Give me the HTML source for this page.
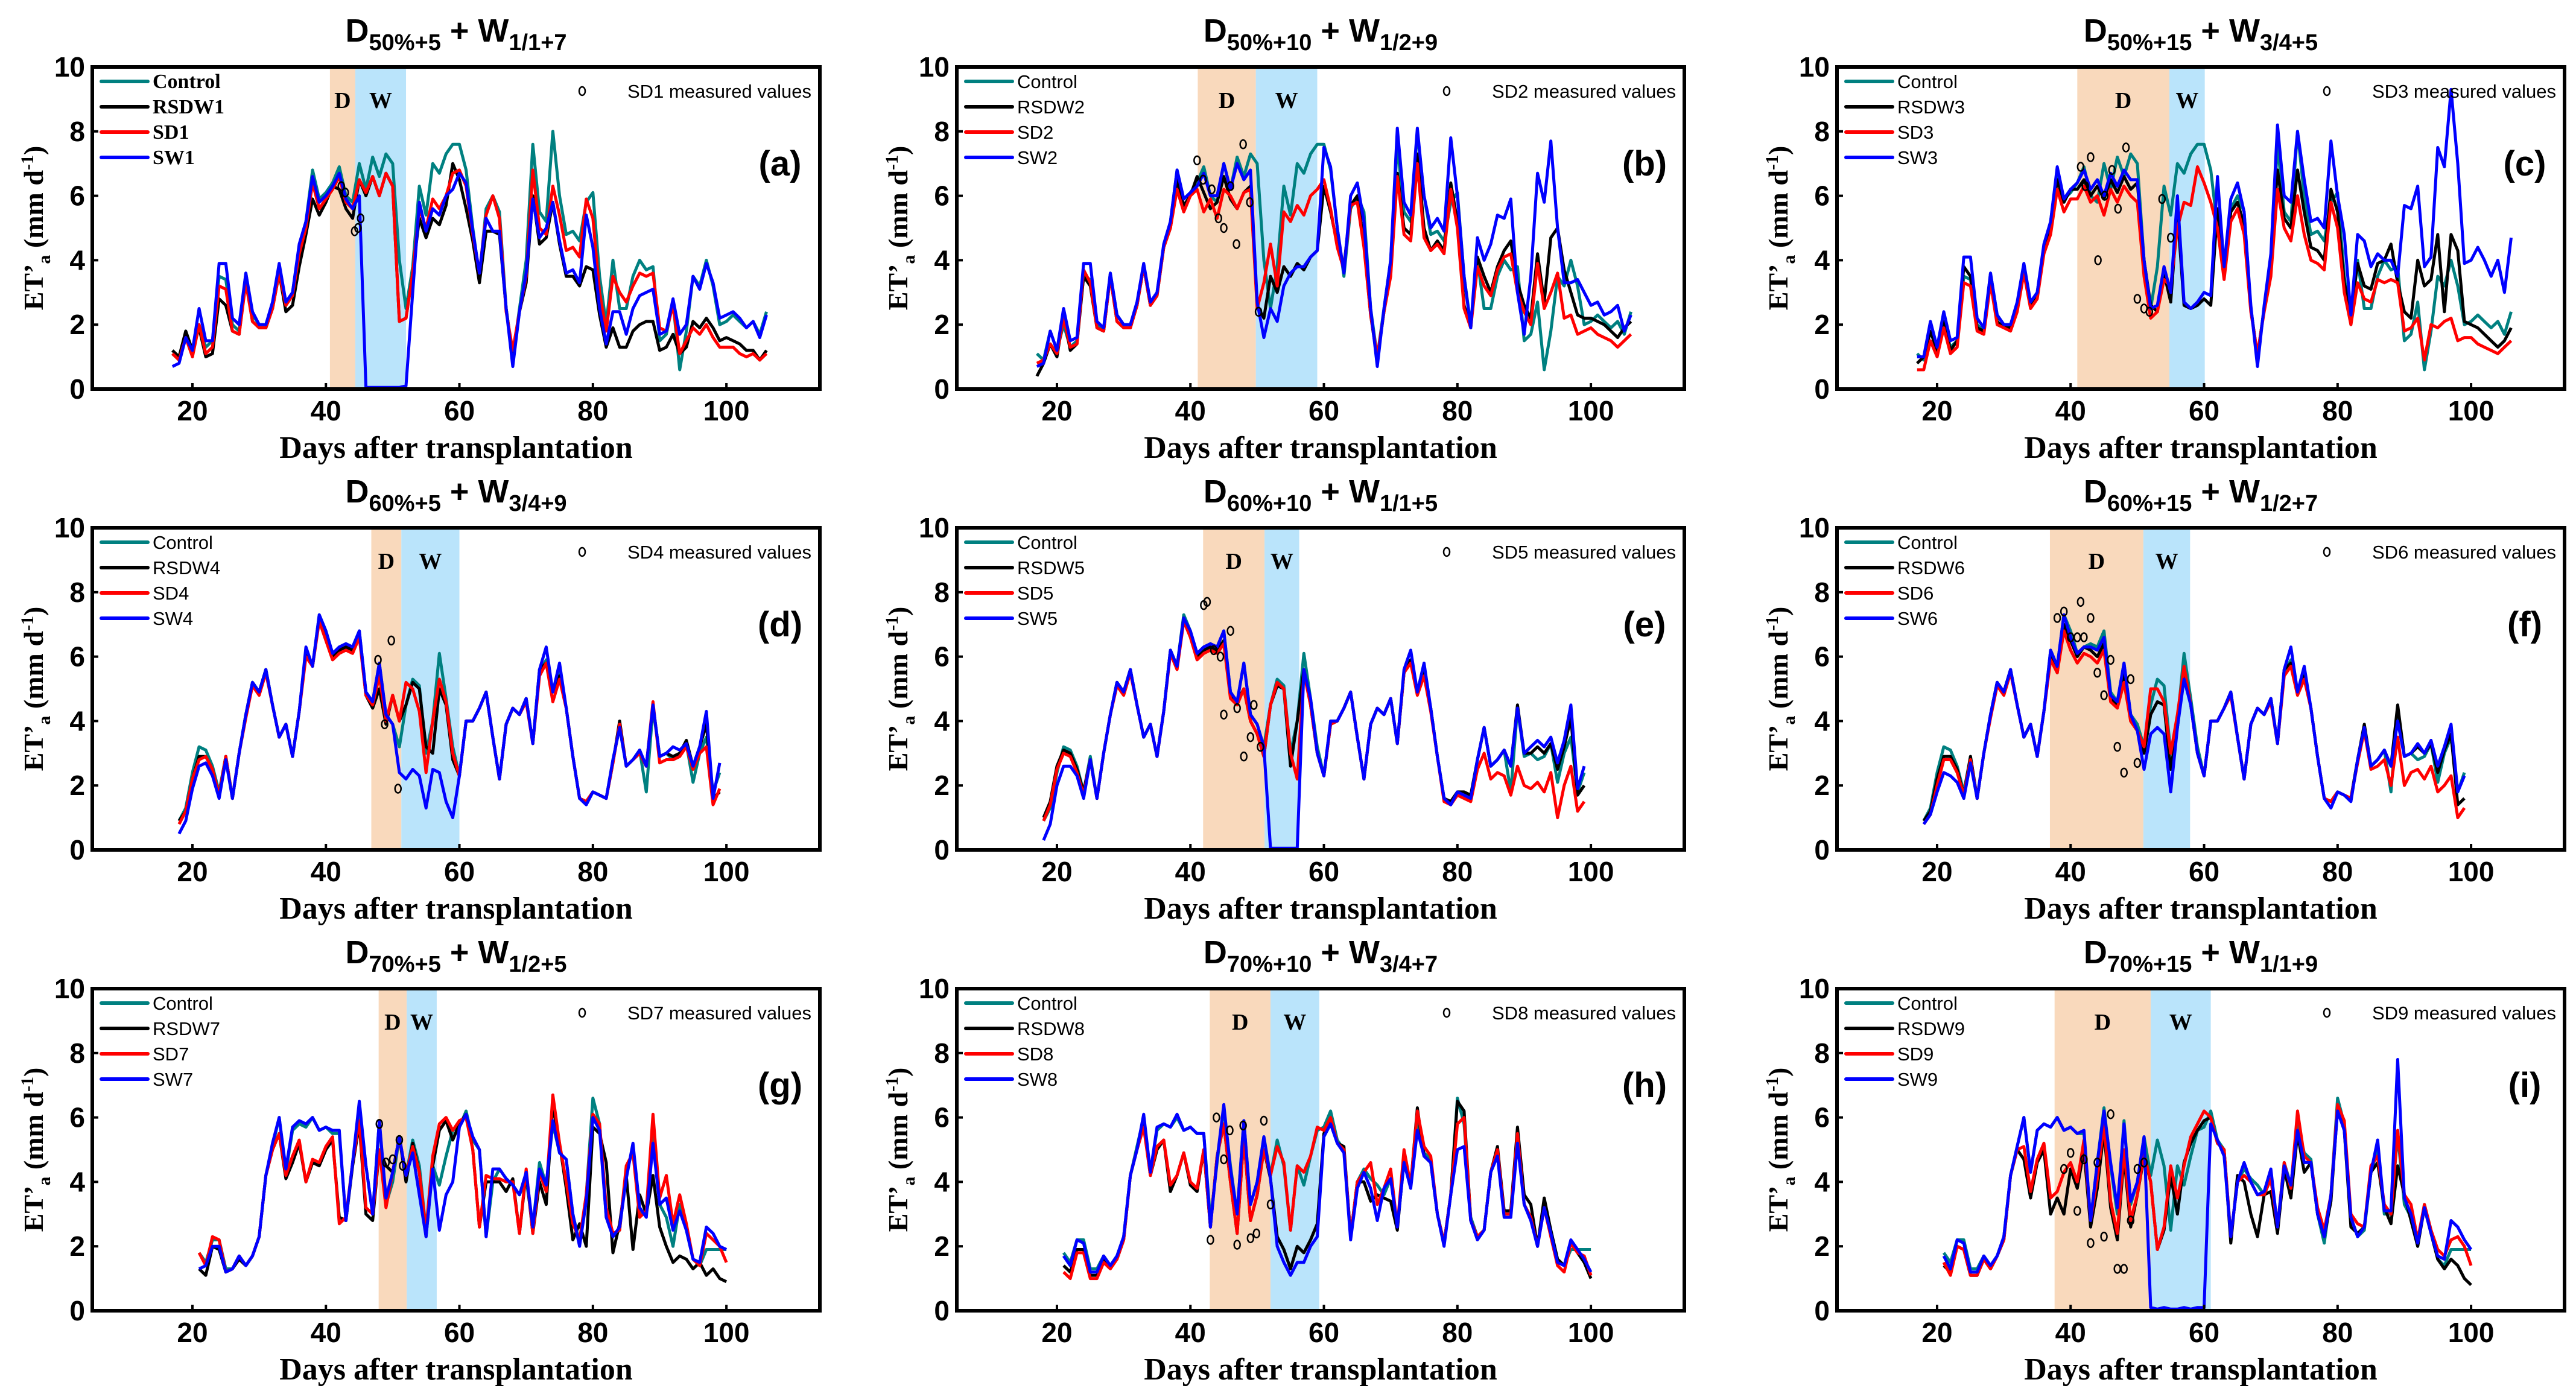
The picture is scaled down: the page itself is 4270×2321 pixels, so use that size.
<!DOCTYPE html>
<html><head><meta charset="utf-8">
<style>
html,body{margin:0;padding:0;background:#fff;}
svg{display:block;}
</style></head>
<body>
<svg id="fig" xmlns="http://www.w3.org/2000/svg" width="4270" height="2321" viewBox="0 0 4270 2321"></svg>
<script>
// ---------- data ----------
const days1 = []; for (let d = 17; d <= 106; d++) days1.push(d);
const days2 = []; for (let d = 18; d <= 99; d++) days2.push(d);
const days3 = []; for (let d = 21; d <= 100; d++) days3.push(d);

const control1 = [1.1,0.9,1.8,1.2,2.0,1.3,1.5,3.5,3.4,2.0, 1.8,3.6,2.3,2.0,2.0,2.6,3.8,2.6,3.0,4.4, 5.2,6.8,5.9,6.1,6.4,6.9,6.0,5.8,7.0,6.2, 7.2,6.6,7.3,7.0,4.0,2.5,3.8,6.3,5.4,7.0, 6.7,7.3,7.6,7.6,6.8,5.0,3.5,5.6,6.0,5.5, 2.5,1.0,2.5,4.0,7.6,5.5,5.2,8.0,6.0,4.8, 4.9,4.6,5.8,6.1,3.5,2.0,4.0,2.5,2.5,3.5, 4.0,3.7,3.8,1.5,1.7,2.7,0.6,1.8,3.5,3.2, 4.0,3.2,2.0,2.1,2.3,2.1,1.9,2.1,1.7,2.4];
const rsdw1 = [1.2,1.0,1.8,1.2,1.9,1.0,1.1,2.8,2.6,1.8, 1.7,3.4,2.1,1.9,1.9,2.5,3.6,2.4,2.6,3.8, 4.8,5.9,5.4,5.8,6.3,6.2,5.6,5.3,6.5,6.0, 6.6,6.0,6.7,6.3,2.1,2.2,3.6,5.3,4.7,5.3, 5.1,5.7,7.0,6.5,5.6,4.6,3.3,4.9,4.9,4.8, 2.5,1.0,2.4,3.3,6.0,4.5,4.7,5.8,4.5,3.5, 3.5,3.2,3.8,3.7,2.3,1.3,1.9,1.3,1.3,1.8, 2.0,2.1,2.1,1.2,1.3,1.7,1.1,1.3,2.1,1.9, 2.2,1.9,1.5,1.6,1.5,1.4,1.2,1.2,0.9,1.2];
const sd1 = [1.1,0.9,1.6,1.0,2.0,1.1,1.3,3.2,3.1,1.8, 1.7,3.3,2.1,1.9,1.9,2.5,3.6,2.6,2.9,4.2, 5.0,6.4,5.6,5.9,6.2,6.6,5.8,5.6,6.5,6.1, 6.6,6.0,6.7,6.3,2.1,2.2,3.6,5.6,5.0,5.9, 5.6,6.0,6.7,6.8,6.3,4.8,3.6,5.4,6.0,5.3, 2.4,1.2,2.4,3.5,6.8,5.0,4.8,6.3,5.4,4.3, 4.4,4.1,5.9,5.3,3.0,1.8,3.5,3.0,2.7,3.2, 3.6,3.5,3.6,1.9,1.8,2.6,1.1,1.5,1.9,1.7, 2.0,1.6,1.3,1.3,1.3,1.1,1.0,1.1,0.9,1.1];
const sw1 = [0.7,0.8,1.6,1.2,2.5,1.5,1.5,3.9,3.9,2.2, 2.0,3.6,2.4,2.0,2.0,2.7,3.9,2.7,3.0,4.5, 5.2,6.6,5.8,6.0,6.3,6.7,5.9,5.6,6.0,0.05, 0.05,0.05,0.05,0.05,0.05,0.1,3.0,5.8,4.9,5.6, 5.4,6.0,6.2,6.7,6.4,4.9,3.6,5.3,4.9,4.9, 2.5,0.7,2.4,3.6,5.9,4.7,5.0,5.8,4.6,3.6, 3.7,3.3,5.4,4.4,2.5,1.4,2.4,2.4,1.7,2.5, 2.9,3.0,3.1,1.7,1.8,2.8,1.7,2.0,3.5,3.1, 3.9,3.3,2.2,2.3,2.4,2.2,1.9,2.1,1.6,2.3];
const measDays1 = [42.3,42.9,44.3,44.8,45.2];
const measVals1 = [6.3,6.1,4.9,5.0,5.3];

const rsdw2 = [0.4,0.8,1.4,1.0,2.3,1.2,1.4,3.5,3.2,1.9, 1.8,3.5,2.1,1.9,1.9,2.6,3.8,2.6,2.9,4.4, 5.0,6.5,5.7,6.0,6.6,6.1,5.6,5.8,6.6,5.9, 5.6,6.1,6.3,2.6,2.2,3.5,3.0,3.8,3.5,3.9, 3.7,4.1,4.3,6.3,5.5,4.5,3.8,5.7,6.0,4.5, 2.3,0.9,2.4,3.7,6.7,5.0,4.8,7.3,5.0,4.3, 4.6,4.3,6.4,5.2,2.6,1.9,4.1,3.5,3.0,3.8, 4.3,4.6,3.3,2.6,2.2,4.2,2.7,4.7,5.0,3.7, 3.0,2.3,2.2,2.2,2.1,2.0,1.8,1.6,1.9,2.1];
const sd2 = [0.8,0.9,1.4,1.1,2.2,1.3,1.4,3.7,3.3,1.9, 1.8,3.5,2.1,1.9,1.9,2.6,3.8,2.6,2.9,4.4, 5.0,6.2,5.5,6.0,6.2,5.5,5.9,5.3,6.2,6.0, 5.6,6.1,6.2,2.5,3.3,4.5,3.2,5.5,5.2,5.7, 5.4,6.0,6.2,6.5,5.6,4.4,3.7,5.7,5.8,4.4, 2.3,1.0,2.4,3.5,6.6,4.8,4.6,7.0,4.7,4.3, 4.5,4.2,6.2,5.0,2.5,1.9,3.8,3.2,2.9,3.7, 4.1,4.2,3.0,2.4,2.0,3.9,2.5,3.0,3.6,2.2, 2.3,1.7,1.8,1.9,1.7,1.6,1.5,1.3,1.5,1.7];
const sw2 = [0.7,0.8,1.8,1.2,2.5,1.5,1.6,3.9,3.9,2.1, 1.9,3.6,2.3,2.0,2.0,2.7,3.9,2.7,3.0,4.5, 5.2,6.8,5.9,6.1,6.3,6.7,6.0,6.0,7.0,6.2, 7.0,6.5,6.8,2.7,1.6,2.5,2.1,3.2,3.6,3.8, 3.8,4.1,4.3,7.5,6.9,5.0,3.6,6.0,6.4,5.2, 2.5,0.7,2.5,4.0,8.1,5.8,5.4,8.1,6.0,5.0, 5.3,4.9,7.8,6.0,3.5,1.9,4.7,4.0,4.5,5.4, 5.3,5.9,3.0,1.7,3.5,6.7,5.8,7.7,5.0,3.3, 3.3,3.4,3.0,2.6,2.7,2.3,2.4,2.6,1.8,2.3];
const measDays2 = [41,41.9,43.2,44.2,45,46,46.9,47.9,48.9,50.2];
const measVals2 = [7.1,6.5,6.2,5.3,5.0,6.3,4.5,7.6,5.8,2.4];

const rsdw3 = [0.8,1.0,1.8,1.2,2.1,1.2,1.5,3.8,3.5,1.9, 1.8,3.4,2.1,1.9,1.9,2.5,3.7,2.6,2.9,4.3, 5.0,6.5,5.8,6.2,6.2,6.5,6.0,6.3,5.9,6.5, 6.1,6.6,6.2,6.4,4.0,2.6,2.4,3.6,2.7,5.5, 2.6,2.5,2.6,2.8,2.6,5.6,3.6,5.5,5.8,5.1, 2.5,1.0,2.5,4.0,6.8,5.3,5.0,6.8,5.5,4.4, 4.3,4.0,6.2,5.5,3.3,2.4,3.9,3.2,3.1,3.9, 4.0,4.5,3.3,2.4,2.2,4.0,3.2,3.4,4.8,2.4, 4.8,4.3,2.1,2.0,1.9,1.7,1.5,1.3,1.5,1.9];
const sd3 = [0.6,0.6,1.5,1.0,1.9,1.1,1.3,3.3,3.2,1.8, 1.7,3.3,2.0,1.9,1.8,2.4,3.6,2.5,2.8,4.2, 4.8,6.2,5.5,5.9,5.9,6.3,5.8,6.0,5.4,6.2, 5.8,6.3,6.0,5.8,3.5,2.2,2.4,3.4,3.2,5.0, 5.8,5.7,6.9,6.4,5.8,5.0,3.4,5.2,5.6,4.8, 2.4,1.1,2.4,3.5,6.2,5.0,4.6,6.0,4.8,4.0, 3.9,3.7,5.8,5.0,3.0,2.0,3.3,2.8,2.7,3.4, 3.3,3.4,3.3,1.8,1.9,2.2,0.9,2.0,1.9,2.1, 2.2,1.5,1.6,1.6,1.4,1.3,1.2,1.1,1.3,1.5];
const sw3 = [1.0,1.0,2.1,1.3,2.4,1.5,1.6,4.1,4.1,2.2, 1.9,3.6,2.3,2.0,2.0,2.7,3.9,2.7,3.0,4.5, 5.2,6.9,5.9,6.2,6.4,6.8,6.2,6.5,6.0,6.7, 6.3,6.8,6.5,6.5,4.0,2.5,2.6,3.8,3.0,6.0, 2.7,2.5,2.7,3.0,2.9,6.6,3.8,5.9,6.4,5.5, 2.6,0.7,2.6,4.2,8.2,6.0,5.8,8.0,6.5,5.2, 5.3,5.0,7.7,6.0,4.8,2.3,4.8,4.6,3.8,4.2, 4.0,4.0,3.5,5.7,5.6,6.3,3.8,4.1,7.5,6.9, 9.3,7.0,3.9,4.0,4.4,4.0,3.5,4.0,3.0,4.7];
const measDays3 = [41.5,42.2,43,44.1,45.1,46.2,47.1,48.3,50,51,51.8,53.7,55];
const measVals3 = [6.9,6.3,7.2,4.0,6.0,6.8,5.6,7.5,2.8,2.5,2.4,5.9,4.7];

const control2 = [0.9,1.3,2.4,3.2,3.1,2.6,1.8,2.9,1.6,3.0, 4.2,5.2,4.9,5.6,4.5,3.5,3.9,2.9,4.3,6.2, 5.7,7.3,6.8,6.1,6.3,6.4,6.3,6.8,4.9,4.6, 5.8,4.2,3.9,3.2,4.5,5.3,5.1,3.0,4.0,6.1, 4.7,3.2,2.3,4.0,4.0,4.4,4.9,3.5,2.2,3.9, 4.4,4.2,4.7,3.3,5.5,5.9,4.9,5.5,4.4,2.9, 1.6,1.5,1.8,1.7,1.6,2.8,3.8,2.6,2.8,3.1, 1.8,4.4,2.9,3.0,2.8,2.9,3.3,2.1,3.0,3.5, 1.8,2.4];
const rsdw4 = [0.9,1.2,2.2,2.9,2.9,2.5,1.7,2.9,1.6,3.0, 4.2,5.2,4.9,5.6,4.5,3.5,3.9,2.9,4.3,6.2, 5.7,7.2,6.7,6.0,6.2,6.3,6.2,6.7,4.8,4.4, 5.0,3.9,4.8,4.0,4.5,5.2,5.0,3.2,3.0,5.0, 4.5,2.8,2.3,4.0,4.0,4.4,4.9,3.5,2.2,3.9, 4.4,4.2,4.7,3.3,5.6,5.8,4.9,5.4,4.4,2.9, 1.6,1.5,1.8,1.7,1.6,2.7,4.0,2.6,2.8,3.0, 2.6,4.5,2.9,3.0,2.9,3.0,3.4,2.6,3.2,3.9, 1.6,1.8];
const sd4 = [0.8,1.2,2.2,2.8,2.9,2.5,1.7,2.9,1.6,3.0, 4.1,5.1,4.8,5.5,4.5,3.5,3.9,2.9,4.3,6.0, 5.7,7.1,6.5,5.9,6.1,6.2,6.1,6.6,4.8,4.5, 5.4,4.0,4.8,4.0,5.2,5.0,4.3,2.4,4.0,5.3, 4.6,3.0,2.3,4.0,4.0,4.4,4.9,3.5,2.2,3.9, 4.4,4.2,4.6,3.3,5.4,5.8,4.6,5.3,4.4,2.9, 1.6,1.5,1.8,1.7,1.6,2.7,3.9,2.6,2.8,3.0, 2.6,4.6,2.7,2.8,2.8,2.9,3.2,2.5,3.0,3.2, 1.4,1.9];
const sw4 = [0.5,0.9,1.9,2.6,2.7,2.3,1.6,2.8,1.6,3.0, 4.2,5.2,4.9,5.6,4.5,3.5,3.9,2.9,4.3,6.3, 5.7,7.3,6.8,6.1,6.3,6.4,6.3,6.8,4.9,4.6, 5.8,4.2,3.9,2.4,2.2,2.5,2.3,1.3,2.5,2.4, 1.5,1.0,2.3,4.0,4.0,4.4,4.9,3.5,2.2,3.9, 4.4,4.2,4.7,3.3,5.6,6.3,4.9,5.8,4.4,2.9, 1.6,1.4,1.8,1.7,1.6,2.8,3.8,2.6,2.8,3.1, 2.6,4.5,2.9,3.0,3.2,3.1,3.3,2.6,3.2,4.3, 1.6,2.7];
const measDays4 = [47.8,48.8,49.8,50.8];
const measVals4 = [5.9,3.9,6.5,1.9];

const rsdw5 = [1.0,1.5,2.6,3.1,3.0,2.5,1.8,2.8,1.6,3.0, 4.2,5.2,4.9,5.6,4.5,3.5,3.9,2.9,4.3,6.2, 5.7,7.2,6.7,6.0,6.2,6.3,6.2,6.5,4.8,4.6, 5.0,4.0,3.6,2.9,4.5,5.1,5.0,2.6,4.0,5.6, 4.5,3.0,2.3,3.9,4.0,4.4,4.9,3.5,2.2,3.9, 4.4,4.2,4.7,3.3,5.5,5.9,4.9,5.5,4.4,2.9, 1.6,1.5,1.8,1.8,1.7,2.8,3.8,2.6,2.8,3.1, 2.6,4.5,3.0,3.0,3.2,3.0,3.3,2.5,3.2,4.1, 1.7,2.0];
const sd5 = [0.9,1.4,2.5,3.0,2.9,2.4,1.7,2.8,1.6,3.0, 4.2,5.1,4.8,5.5,4.5,3.5,3.9,2.9,4.3,6.1, 5.6,7.1,6.6,5.9,6.1,6.2,6.1,6.4,4.7,4.5, 5.0,4.0,3.6,2.9,4.5,5.2,5.0,3.0,2.2,5.5, 4.5,3.0,2.3,3.9,4.0,4.4,4.9,3.5,2.2,3.9, 4.4,4.2,4.7,3.3,5.5,5.8,4.8,5.4,4.3,2.9, 1.5,1.4,1.7,1.6,1.5,2.5,3.0,2.2,2.4,2.3, 1.7,2.6,2.0,1.9,2.1,1.8,2.4,1.0,2.0,2.6, 1.2,1.5];
const sw5 = [0.3,0.8,2.0,2.6,2.6,2.3,1.6,2.8,1.6,3.0, 4.2,5.2,4.9,5.6,4.5,3.5,3.9,2.9,4.3,6.2, 5.7,7.2,6.8,6.1,6.3,6.4,6.3,6.8,4.9,4.6, 5.8,4.2,3.9,3.2,0.05,0.05,0.05,0.05,0.05,5.6, 4.7,3.0,2.3,4.0,4.0,4.4,4.9,3.5,2.2,3.9, 4.4,4.2,4.7,3.3,5.6,6.2,4.9,5.8,4.4,2.9, 1.6,1.4,1.8,1.7,1.6,2.8,3.8,2.6,2.8,3.1, 2.6,4.4,3.0,3.2,3.4,3.2,3.5,2.7,3.4,4.5, 1.9,2.6];
const measDays5 = [42,42.5,43.5,44.5,45,46,47,48,49,49.5,50.5];
const measVals5 = [7.6,7.7,6.2,6.0,4.2,6.8,4.4,2.9,3.5,4.5,3.2];

const rsdw6 = [0.9,1.2,2.2,2.9,2.9,2.5,1.7,2.9,1.6,3.0, 4.2,5.2,4.9,5.6,4.5,3.5,3.9,2.9,4.3,6.0, 5.5,7.0,6.5,6.0,6.3,6.2,6.0,6.4,4.7,4.5, 5.5,4.0,3.7,3.0,4.2,4.6,4.5,2.5,3.8,5.5, 4.5,3.0,2.3,4.0,4.0,4.4,4.9,3.5,2.2,3.9, 4.4,4.2,4.7,3.3,5.6,5.8,4.9,5.4,4.4,2.9, 1.6,1.5,1.8,1.7,1.6,2.8,3.9,2.6,2.8,3.1, 2.6,4.5,2.9,3.0,3.2,3.0,3.3,2.4,3.1,3.6, 1.4,1.6];
const sd6 = [0.8,1.1,2.0,2.8,2.8,2.4,1.7,2.8,1.6,3.0, 4.1,5.1,4.8,5.5,4.5,3.5,3.9,2.9,4.3,5.9, 5.5,6.8,6.2,5.8,6.1,6.0,5.8,6.2,4.6,4.4, 5.2,4.0,3.7,3.2,5.0,5.0,4.6,3.0,4.2,5.7, 4.5,3.0,2.3,4.0,4.0,4.4,4.8,3.5,2.2,3.9, 4.4,4.2,4.6,3.3,5.4,5.7,4.8,5.3,4.4,2.9, 1.6,1.5,1.8,1.7,1.6,2.7,3.7,2.5,2.6,2.8, 2.0,3.5,2.0,2.4,2.5,2.2,2.6,1.8,2.0,2.3, 1.0,1.3];
const sw6 = [0.8,1.1,1.8,2.4,2.3,2.1,1.6,2.7,1.6,3.0, 4.2,5.2,4.9,5.6,4.5,3.5,3.9,2.9,4.3,6.2, 5.7,7.3,6.6,6.1,6.3,6.3,6.2,6.6,4.8,4.6, 5.8,4.2,3.7,2.5,3.6,3.8,3.6,1.8,3.8,5.3, 4.5,3.0,2.3,4.0,4.0,4.4,4.9,3.5,2.2,3.9, 4.4,4.2,4.7,3.3,5.6,6.3,4.9,5.7,4.4,2.9, 1.6,1.3,1.8,1.7,1.5,2.8,3.8,2.6,2.8,3.1, 2.6,4.0,2.9,3.0,3.3,3.0,3.4,2.6,3.2,3.9, 1.8,2.3];
const measDays6 = [38,39,40,41,41.5,42,43,44,45,46,47,48,49,50];
const measVals6 = [7.2,7.4,6.6,6.6,7.7,6.6,7.2,5.5,4.8,5.9,3.2,2.4,5.3,2.7];

const control3 = [1.8,1.5,2.2,2.2,1.3,1.3,1.7,1.4,1.7,2.3, 4.2,5.1,6.0,4.3,5.6,5.8,5.7,6.0,5.6,5.7, 5.5,5.5,2.8,4.6,6.3,4.5,3.0,5.9,3.3,4.0, 5.4,4.2,5.3,4.5,2.5,4.5,3.9,4.8,5.6,5.7, 6.2,5.3,5.0,2.3,4.0,4.4,4.1,3.9,3.6,4.1, 2.6,4.6,3.9,5.8,4.9,4.7,3.0,2.1,3.6,6.6, 5.8,2.9,2.3,2.5,4.3,5.0,3.0,3.0,5.5,3.3, 2.9,2.0,3.3,2.5,1.6,1.4,1.9,1.9,1.9,1.9];
const rsdw7 = [1.3,1.1,2.0,1.9,1.2,1.3,1.6,1.4,1.7,2.3, 4.2,5.0,5.5,4.1,4.6,5.2,4.0,4.6,4.5,5.0, 5.3,2.9,2.8,4.5,5.8,3.0,2.8,5.0,4.5,4.3, 5.4,4.0,5.2,4.3,2.3,4.5,5.6,5.9,5.3,5.8, 6.1,5.0,2.6,4.0,4.0,4.0,3.7,4.1,2.4,4.3, 2.4,4.0,3.3,6.4,5.2,3.8,2.2,2.7,2.0,5.7, 5.5,4.6,1.8,2.7,4.2,1.9,3.6,3.0,4.2,2.6, 2.0,1.5,1.7,1.6,1.3,1.5,1.1,1.3,1.0,0.9];
const sd7 = [1.8,1.4,2.3,2.2,1.2,1.3,1.7,1.4,1.7,2.3, 4.2,5.0,5.5,4.2,4.8,5.3,4.0,4.7,4.6,5.1, 5.4,2.7,2.9,4.6,5.9,3.2,3.0,5.0,3.2,4.3, 5.4,4.2,5.1,4.3,2.5,4.8,5.8,6.0,5.6,5.9, 6.0,5.0,2.6,4.2,4.1,4.1,4.0,4.0,2.4,4.4, 2.4,4.3,3.7,6.7,5.2,4.0,2.7,2.2,3.6,6.1, 5.8,3.2,2.4,2.5,4.5,4.9,2.9,3.1,6.1,3.5, 4.2,2.7,3.6,2.7,1.6,1.4,2.4,2.2,2.0,1.5];
const sw7 = [1.3,1.4,2.0,2.0,1.2,1.3,1.7,1.4,1.7,2.3, 4.2,5.2,6.0,4.4,5.7,5.9,5.8,6.0,5.6,5.7, 5.6,5.6,2.8,4.6,6.5,4.5,3.0,5.9,3.5,4.3, 5.4,4.2,4.9,3.6,2.3,4.4,2.5,3.6,4.0,5.7, 6.1,5.4,5.0,2.3,4.4,4.4,4.1,3.9,3.6,4.3, 2.6,4.4,3.9,5.9,4.9,4.7,3.0,2.0,3.4,6.0, 5.6,2.9,2.3,2.6,4.1,5.2,3.2,2.9,5.2,3.3, 3.5,2.5,3.1,2.5,1.6,1.5,2.6,2.4,2.0,1.9];
const measDays7 = [48,49,50,51,51.5];
const measVals7 = [5.8,4.6,4.7,5.3,4.5];

const rsdw8 = [1.4,1.2,1.9,1.9,1.1,1.1,1.6,1.4,1.6,2.2, 4.2,5.0,5.8,4.2,5.0,5.3,3.7,4.2,4.9,3.9, 3.7,5.0,2.6,4.8,5.8,4.0,2.4,5.4,2.8,3.6, 5.0,4.1,2.3,1.9,1.3,2.0,1.8,2.2,2.7,5.5, 5.9,5.2,5.1,2.3,4.0,4.0,3.4,3.6,3.5,3.4, 2.5,4.7,3.9,6.3,4.8,4.6,3.0,2.1,3.6,6.5, 6.2,2.8,2.3,2.5,4.3,5.1,3.1,3.1,5.7,3.6, 3.3,2.0,3.5,2.5,1.6,1.4,2.1,1.8,1.5,1.0];
const sd8 = [1.2,1.0,1.8,1.8,1.0,1.0,1.5,1.3,1.6,2.2, 4.2,5.0,5.7,4.2,5.1,5.3,3.9,4.2,4.9,4.0, 3.8,5.0,2.6,4.8,5.8,4.0,2.4,5.4,2.8,3.6, 5.0,4.2,5.1,4.6,2.5,4.5,4.3,4.8,5.7,5.6, 6.0,5.2,5.0,2.3,4.0,4.3,4.6,3.3,3.8,4.4, 2.6,5.0,3.9,6.2,5.1,4.8,3.0,2.1,3.6,5.8, 6.0,2.8,2.3,2.5,4.3,5.0,3.0,3.0,5.5,3.3, 2.9,2.0,3.2,2.3,1.4,1.2,2.1,1.8,1.7,1.1];
const sw8 = [1.7,1.4,2.2,2.1,1.2,1.2,1.7,1.4,1.7,2.3, 4.2,5.0,6.1,4.3,5.7,5.8,5.7,6.1,5.6,5.7, 5.5,5.5,2.6,4.7,6.4,4.4,3.0,5.9,3.3,4.0, 5.4,4.1,2.0,1.5,1.1,1.5,1.5,2.0,2.3,5.4, 5.8,5.2,4.9,2.2,3.8,4.3,3.8,2.8,3.8,4.1, 2.6,4.6,3.8,5.6,4.8,4.6,3.0,2.0,3.6,5.0, 5.1,2.8,2.2,2.5,4.3,4.8,2.9,2.9,5.2,3.3, 2.8,2.0,3.2,2.4,1.5,1.4,2.2,1.9,1.6,1.2];
const measDays8 = [43.0,43.9,45.0,45.9,47.0,47.9,49.0,49.9,51.0,52.0];
const measVals8 = [2.2,6.0,4.7,5.6,2.05,5.75,2.25,2.4,5.9,3.3];

const rsdw9 = [1.4,1.2,2.0,1.9,1.1,1.1,1.6,1.3,1.7,2.2, 4.2,5.0,4.7,3.5,4.6,5.0,3.0,3.5,3.0,4.4, 3.8,5.0,2.6,3.8,5.6,3.2,2.2,4.8,2.6,3.6, 4.8,4.0,1.9,2.5,4.2,3.0,4.6,5.2,5.6,5.9, 6.0,5.2,5.0,2.1,4.2,4.0,3.0,2.3,3.6,3.7, 2.4,4.4,3.5,5.5,4.3,4.6,3.0,2.3,3.4,6.3, 5.6,2.6,2.4,2.6,4.3,4.6,3.2,2.7,4.5,3.6, 2.8,2.0,3.2,2.4,1.6,1.3,1.6,1.4,1.0,0.8];
const sd9 = [1.5,1.1,2.0,1.9,1.1,1.1,1.6,1.3,1.7,2.2, 4.2,5.0,5.1,3.7,4.7,5.2,3.5,3.7,4.3,4.6, 4.0,5.3,2.8,4.1,5.8,3.4,2.4,5.0,2.8,3.6, 4.9,4.0,1.9,2.6,4.5,3.5,4.5,5.4,5.8,6.2, 6.0,5.2,5.0,2.3,4.0,4.2,4.0,3.6,3.6,4.1, 2.6,4.6,3.8,6.2,4.8,4.6,3.2,2.5,3.6,6.4, 5.9,3.0,2.7,2.6,4.5,4.8,3.3,3.0,5.6,3.6, 3.3,2.2,3.3,2.5,1.9,1.7,2.2,2.3,2.0,1.4];
const sw9 = [1.7,1.3,2.2,2.1,1.2,1.2,1.7,1.4,1.7,2.3, 4.2,5.1,6.0,4.3,5.6,5.8,5.7,6.0,5.6,5.7, 5.5,5.6,2.8,4.6,6.2,4.6,3.2,5.8,3.4,4.0, 5.4,0.1,0.05,0.1,0.05,0.05,0.1,0.05,0.1,0.1, 5.8,5.3,4.8,2.3,4.0,4.6,4.0,3.6,3.7,4.4, 2.6,4.5,3.9,5.6,4.6,4.6,3.0,2.3,3.6,6.2, 5.6,2.9,2.3,2.6,4.3,5.3,3.1,3.1,7.8,3.5, 3.0,2.1,3.2,2.4,1.7,1.6,2.8,2.6,2.2,1.9];
const measDays9 = [39,40,41,42,43,44,45,46,47,48,49,50,51];
const measVals9 = [4.4,4.9,3.1,4.7,2.1,4.6,2.3,6.1,1.3,1.3,2.8,4.4,4.6];

const xTicks = [20,40,60,80,100];
const yTicks = [0,2,4,6,8,10];
const dryStart = [40.6,41.1,41.0, 46.8,41.9,36.9, 47.9,42.9,37.6];
const wetStart = [44.4,49.8,54.8, 51.3,51.1,50.9, 52.1,52.0,52.0];
const wetEnd   = [52.0,59.0,60.1, 60.0,56.3,57.9, 56.6,59.3,61.0];
const dPct = ["50%+5","50%+10","50%+15","60%+5","60%+10","60%+15","70%+5","70%+10","70%+15"];
const wSub = ["1/1+7","1/2+9","3/4+5","3/4+9","1/1+5","1/2+7","1/2+5","3/4+7","1/1+9"];
const letters = ["a","b","c","d","e","f","g","h","i"];

const panels = [
  {days:days1, c:control1, r:rsdw1, s:sd1, w:sw1, md:measDays1, mv:measVals1},
  {days:days1, c:control1, r:rsdw2, s:sd2, w:sw2, md:measDays2, mv:measVals2},
  {days:days1, c:control1, r:rsdw3, s:sd3, w:sw3, md:measDays3, mv:measVals3},
  {days:days2, c:control2, r:rsdw4, s:sd4, w:sw4, md:measDays4, mv:measVals4},
  {days:days2, c:control2, r:rsdw5, s:sd5, w:sw5, md:measDays5, mv:measVals5},
  {days:days2, c:control2, r:rsdw6, s:sd6, w:sw6, md:measDays6, mv:measVals6},
  {days:days3, c:control3, r:rsdw7, s:sd7, w:sw7, md:measDays7, mv:measVals7},
  {days:days3, c:control3, r:rsdw8, s:sd8, w:sw8, md:measDays8, mv:measVals8},
  {days:days3, c:control3, r:rsdw9, s:sd9, w:sw9, md:measDays9, mv:measVals9}
];

// ---------- layout ----------
const NS = "http://www.w3.org/2000/svg";
const svg = document.getElementById("fig");
const colL = [153, 1586, 3045];
const rowT = [111, 875, 1639];
const PW = 1206, PH = 534, XMIN = 5, XMAX = 114, YMAX = 10;
const SANS = '"Liberation Sans", Arial, sans-serif';
const SERIF = '"Liberation Serif", "Times New Roman", serif';

function mk(tag, attrs, parent) {
  const e = document.createElementNS(NS, tag);
  for (const k in attrs) e.setAttribute(k, attrs[k]);
  (parent || svg).appendChild(e);
  return e;
}

panels.forEach((p, i) => {
  const L = colL[i % 3], T = rowT[Math.floor(i / 3)];
  const sx = d => L + (d - XMIN) / (XMAX - XMIN) * PW;
  const sy = v => T + PH - v / YMAX * PH;
  const g = mk("g", {});
  
  

  // bands
  const bd = mk("rect", {x: sx(dryStart[i]), y: T, width: sx(wetStart[i]) - sx(dryStart[i]), height: PH, fill: "#f9d9bc"}, g);
  
  
  const bw = mk("rect", {x: sx(wetStart[i]), y: T, width: sx(wetEnd[i]) - sx(wetStart[i]), height: PH, fill: "#bae4fb"}, g);
  
  
  const dl = mk("text", {x: (sx(dryStart[i]) + sx(wetStart[i])) / 2, y: T + 68, "text-anchor": "middle", "font-family": SERIF, "font-weight": "bold", "font-size": 38}, g);
  dl.textContent = "D";
  
  
  const wl = mk("text", {x: (sx(wetStart[i]) + sx(wetEnd[i])) / 2, y: T + 68, "text-anchor": "middle", "font-family": SERIF, "font-weight": "bold", "font-size": 38}, g);
  wl.textContent = "W";
  
  

  // series
  const series = [["control", p.c, "#008080"], ["rsdw", p.r, "#000000"], ["sd", p.s, "#ff0000"], ["sw", p.w, "#0000ff"]];
  series.forEach(([nm, vals, col]) => {
    const pts = vals.map((v, k) => sx(p.days[k]).toFixed(1) + "," + sy(v).toFixed(1)).join(" ");
    const pl = mk("polyline", {points: pts, fill: "none", stroke: col, "stroke-width": 5, "stroke-linejoin": "round"}, g);
    
    
  });

  // measured points
  p.md.forEach((d, k) => {
    const c = mk("ellipse", {cx: sx(d), cy: sy(p.mv[k]), rx: 5, ry: 7, fill: "none", stroke: "#000", "stroke-width": 2.5}, g);
    
    
  });

  // frame
  const fr = mk("rect", {x: L, y: T, width: PW, height: PH, fill: "none", stroke: "#000", "stroke-width": 6}, g);
  
  

  // x ticks
  xTicks.forEach(t => {
    const tk = mk("line", {x1: sx(t), x2: sx(t), y1: T + PH, y2: T + PH - 10, stroke: "#000", "stroke-width": 4}, g);
    
    
    const tl = mk("text", {x: sx(t), y: T + PH + 52, "text-anchor": "middle", "font-family": SANS, "font-weight": "bold", "font-size": 46}, g);
    tl.textContent = t;
    
    
  });
  yTicks.forEach(t => {
    const tk = mk("line", {x1: L, x2: L + 10, y1: sy(t), y2: sy(t), stroke: "#000", "stroke-width": 4}, g);
    
    
    const tl = mk("text", {x: L - 12, y: sy(t) + 16, "text-anchor": "end", "font-family": SANS, "font-weight": "bold", "font-size": 46}, g);
    tl.textContent = t;
    
    
  });

  // x axis title
  const xt = mk("text", {x: L + PW / 2, y: T + PH + 114, "text-anchor": "middle", "font-family": SERIF, "font-weight": "bold", "font-size": 52}, g);
  xt.textContent = "Days after transplantation";
  
  

  // y axis title
  const yt = mk("text", {x: 0, y: 0, "text-anchor": "middle", "font-family": SERIF, "font-weight": "bold", "font-size": 46, transform: "translate(" + (L - 82) + "," + (T + PH / 2) + ") rotate(-90)"}, g);
  
  
  yt.innerHTML = 'ET\u2019<tspan dy="12" font-size="30">a</tspan><tspan dy="-12"> (mm d</tspan><tspan dy="-16" font-size="30">-1</tspan><tspan dy="16">)</tspan>';

  // title
  const tt = mk("text", {x: L + PW / 2, y: T - 42, "text-anchor": "middle", "font-family": SANS, "font-weight": "bold", "font-size": 54}, g);
  
  
  tt.innerHTML = 'D<tspan dy="14" font-size="38">' + dPct[i] + '</tspan><tspan dy="-14"> + W</tspan><tspan dy="14" font-size="38">' + wSub[i] + '</tspan>';

  // legend
  const labs = ["Control", "RSDW" + (i + 1), "SD" + (i + 1), "SW" + (i + 1)];
  const cols = ["#008080", "#000000", "#ff0000", "#0000ff"];
  labs.forEach((lb, k) => {
    const y = T + 24 + k * 42;
    const ll = mk("line", {x1: L + 15, x2: L + 92, y1: y, y2: y, stroke: cols[k], "stroke-width": 6, "stroke-linecap": "round"}, g);
    
    
    const lt = mk("text", {x: L + 100, y: y + 11, "font-family": i === 0 ? SERIF : SANS, "font-weight": i === 0 ? "bold" : "normal", "font-size": i === 0 ? 34 : 31}, g);
    lt.textContent = lb;
    
    
  });
  const mc = mk("ellipse", {cx: L + 812, cy: T + 40, rx: 5, ry: 7, fill: "none", stroke: "#000", "stroke-width": 2.5}, g);
  
  
  const mt = mk("text", {x: L + 1192, y: T + 51, "text-anchor": "end", "font-family": SANS, "font-size": 31}, g);
  mt.textContent = "SD" + (i + 1) + " measured values";
  
  
  const pl = mk("text", {x: L + 1140, y: T + 180, "text-anchor": "middle", "font-family": SANS, "font-weight": "bold", "font-size": 58}, g);
  pl.textContent = "(" + letters[i] + ")";
  
  
});
</script>
</body></html>
